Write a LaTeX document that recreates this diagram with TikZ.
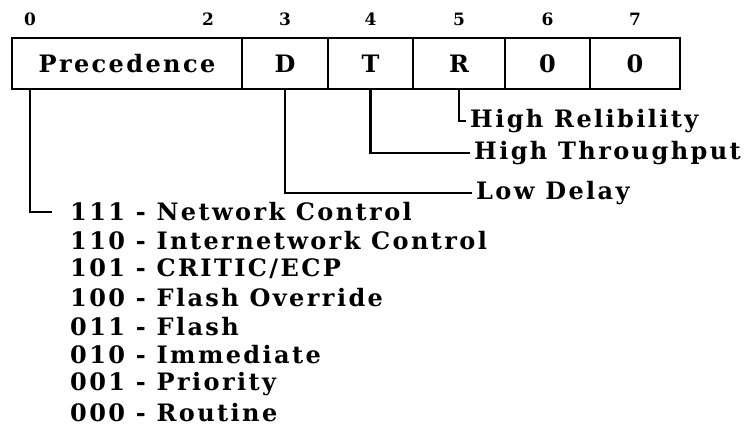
\documentclass[tikz,border=0pt]{standalone}
\usepackage{fontspec}
\setmainfont{DejaVu Serif}[LetterSpace=10]
\usetikzlibrary{positioning}

\tikzset{
  cell/.style={draw,line width=2.8pt,minimum height=51pt,inner sep=0pt,outer sep=0pt,font=\bfseries\fontsize{24}{28}\selectfont},
  bitno/.style={inner sep=1pt,font=\bfseries\fontsize{17}{20}\selectfont},
  flag/.style={anchor=west,inner sep=4pt,font=\bfseries\fontsize{24}{28}\selectfont},
  item/.style={anchor=west,inner sep=2pt,font=\bfseries\fontsize{24}{28}\selectfont},
  wire/.style={line width=2.3pt}
}

\begin{document}
\begin{tikzpicture}[x=1pt,y=-1pt]
\useasboundingbox (0,0) rectangle (753,428);
% header cells
\node[cell,minimum width=230pt,anchor=north west] (prec) at (12,38) {Precedence};
\node[cell,minimum width=86pt,right=0pt of prec] (d) {D};
\node[cell,minimum width=85pt,right=0pt of d] (t) {T};
\node[cell,minimum width=92pt,right=0pt of t] (r) {R};
\node[cell,minimum width=85pt,right=0pt of r] (z6) {0};
\node[cell,minimum width=90pt,right=0pt of z6] (z7) {0};
% bit numbers
\node[bitno] (b0) at (30,19) {0};
\node[bitno] (b2) at (208,19) {2};
\node[bitno] (b3) at (d.center |- b0) {3};
\node[bitno] (b4) at (t.center |- b0) {4};
\node[bitno] (b5) at (r.center |- b0) {5};
\node[bitno] (b6) at (z6.center |- b0) {6};
\node[bitno] (b7) at (z7.center |- b0) {7};
% flag labels
\node[flag] (rel) at (466,121) {High Relibility};
\node[flag] (thr) at (470,153) {High Throughput};
\node[flag] (dly) at (472,193) {Low Delay};
\draw[wire] (r.south) |- (rel.west);
\draw[wire] (t.south) |- (thr.west);
\draw[wire] (d.south) |- (dly.west);
% precedence values
\foreach \code/\txt [count=\i] in {111/Network Control,110/Internetwork Control,101/{CRITIC/ECP},100/Flash Override,011/Flash,010/Immediate,001/Priority,000/Routine}
  \node[item] (row\i) at (68,{212+28.6*(\i-1)}) {\code\ - \txt};
\draw[wire,shorten >=16pt] (b0 |- prec.south) |- (row1.west);
\end{tikzpicture}
\end{document}
